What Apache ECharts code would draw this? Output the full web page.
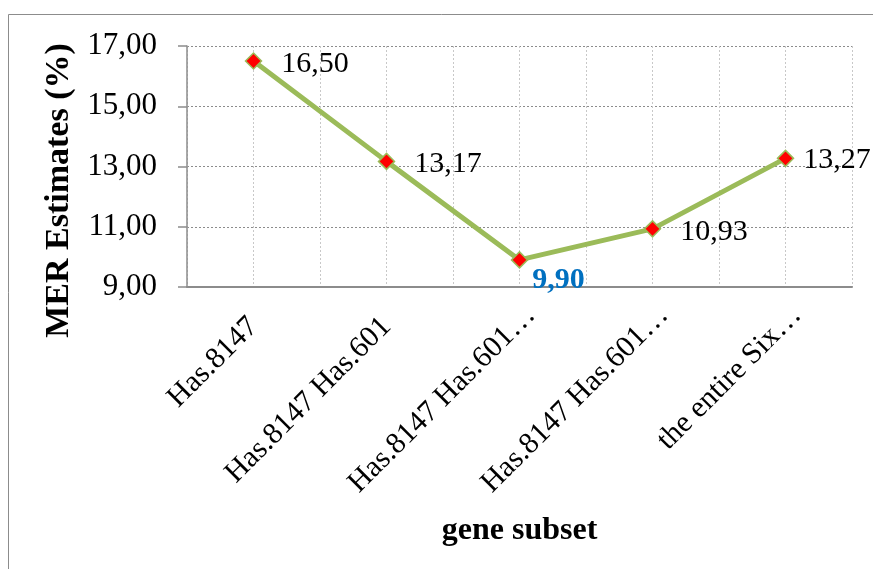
<!DOCTYPE html>
<html>
<head>
<meta charset="utf-8">
<script src="https://cdn.jsdelivr.net/npm/echarts@6/dist/echarts.min.js"></script>
<style>
html,body{margin:0;padding:0;background:#fff;}
#chart{width:873px;height:569px;}
</style>
</head>
<body>
<div id="chart"></div>
<script>
const categories = ["Has.8147", "Has.8147 Has.601", "Has.8147 Has.601\u2026", "Has.8147 Has.601\u2026", "the entire Six\u2026"];
const merValues = [16.50, 13.17, 9.90, 10.93, 13.27];
const yTicks = [9, 11, 13, 15, 17];
const yTitle = "MER Estimates (%)";
const xTitle = "gene subset";

const FONT = "'Liberation Serif', 'Times New Roman', serif";
const fmt = v => Number(v).toFixed(2).replace('.', ',');

const chart = echarts.init(document.getElementById('chart'), null, {renderer: 'canvas'});

const seriesData = merValues.map((v, i) => {
  const item = {value: v};
  if (i === 2) {
    item.label = {color: '#0070C0', fontWeight: 'bold', distance: 4, offset: [0, 20]};
  } else if (i === merValues.length - 1) {
    item.label = {distance: 9, offset: [0, 2]};
  }
  return item;
});

chart.setOption({
  animation: false,
  backgroundColor: '#fff',
  graphic: [{
    type: 'rect',
    shape: {x: 8.5, y: 14.5, width: 900, height: 600},
    style: {fill: 'none', stroke: '#8c8c8c', lineWidth: 1},
    silent: true, z: -10
  }],
  grid: {left: 187, top: 46, right: 21, bottom: 282, containLabel: false},
  xAxis: [{
    type: 'category',
    data: categories,
    boundaryGap: true,
    name: xTitle,
    nameLocation: 'middle',
    nameGap: 228,
    nameTextStyle: {fontFamily: FONT, fontSize: 32, fontWeight: 'bold', color: '#000'},
    axisLine: {lineStyle: {color: '#8c8c8c', width: 2}},
    axisTick: {show: false},
    splitLine: {show: false},
    axisLabel: {
      interval: 0, rotate: 45, margin: 35,
      fontFamily: FONT, fontSize: 30, color: '#000',
      formatter: v => v.slice(-1) === '\u2026' ? '{t|' + v + '}' : v,
      rich: {
        t: {fontFamily: FONT, fontSize: 30, color: '#000', padding: [0, -16, 0, 0]}
      }
    }
  }, {
    type: 'value',
    min: 0, max: 10, interval: 1,
    position: 'bottom',
    axisLine: {show: false},
    axisTick: {show: false},
    axisLabel: {show: false},
    splitLine: {show: true, lineStyle: {color: '#c8c8c8', type: [2, 2], width: 1}}
  }],
  yAxis: {
    type: 'value',
    min: 9, max: 17,
    name: yTitle,
    nameLocation: 'middle',
    nameGap: 106,
    nameTextStyle: {fontFamily: FONT, fontSize: 34, fontWeight: 'bold', color: '#000', padding: [0, 48, 0, 0]},
    axisLine: {show: true, lineStyle: {color: '#8c8c8c', width: 1.5}},
    axisTick: {show: true, inside: false, length: 9, customValues: yTicks, lineStyle: {color: '#8c8c8c', width: 1.5}},
    axisLabel: {
      customValues: yTicks,
      margin: 30,
      fontFamily: FONT, fontSize: 31, color: '#000',
      formatter: v => fmt(v)
    },
    splitLine: {show: true, lineStyle: {color: '#8c8c8c', type: [2, 2], width: 1}}
  },
  series: [{
    type: 'line',
    xAxisIndex: 0,
    data: seriesData,
    symbol: 'diamond',
    symbolSize: 16,
    lineStyle: {color: '#9BBB59', width: 5},
    itemStyle: {color: '#FF0000', borderColor: '#9BBB59', borderWidth: 1.5},
    label: {
      show: true, position: 'right', distance: 19, offset: [0, 3],
      fontFamily: FONT, fontSize: 30, color: '#000',
      formatter: p => fmt(p.value)
    },
    z: 5
  }]
});
</script>
</body>
</html>
